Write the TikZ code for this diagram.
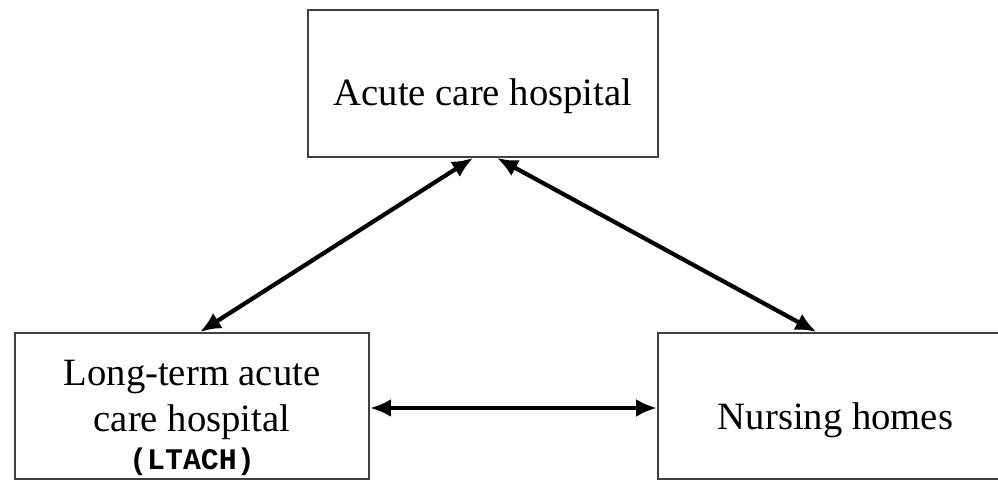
\documentclass[tikz,border=0pt]{standalone}
\usepackage{fontspec}
\setmainfont{Liberation Serif}
\newfontfamily\ltachfont{Liberation Mono}
\usetikzlibrary{arrows.meta}
\begin{document}
\begin{tikzpicture}[every text node part/.style={align=center},
	box/.style={draw=black!75,line width=1.1pt,minimum width=7cm,minimum height=2.92cm,inner sep=0pt,font=\fontsize{22}{26}\selectfont},
	link/.style={line width=2.4pt,{Latex[length=0.42cm,width=0.36cm]}-{Latex[length=0.42cm,width=0.36cm]}}]
		\useasboundingbox (0,0) rectangle (19.96,9.64);
		%boxes
		\node[box,minimum height=2.94cm] (acute) at (9.66,7.97) {\\[4pt]Acute care hospital};
		\node[box,minimum width=7.08cm] (ltach) at (3.84,1.52) {\\[2pt]Long-term acute\\care hospital\\[-4pt]{\ltachfont\bfseries\fontsize{17}{20}\selectfont (LTACH)}};
		\node[box,minimum width=7.1cm] (nursing) at (16.71,1.52) {\\[5pt]Nursing homes};
		
		%arrow ends
		\coordinate (a1) at ([xshift=-0.2cm]acute.south);
		\coordinate (a2) at ([xshift=0.28cm]acute.south);
		\coordinate (l1) at ([xshift=0.16cm]ltach.north);
		\coordinate (n1) at ([xshift=-0.38cm]nursing.north);
		\coordinate (l2) at ([yshift=-0.04cm]ltach.east);
		\coordinate (n2) at ([yshift=-0.04cm]nursing.west);
		
		\draw[link] (a1) -- (l1);
		\draw[link] (a2) -- (n1);
		\draw[link] (l2) -- (n2);
		
		\end{tikzpicture}
\end{document}
